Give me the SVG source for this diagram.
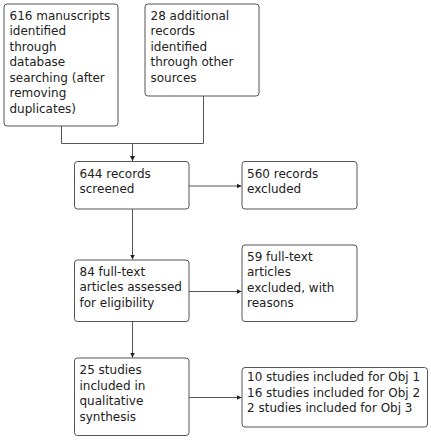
<svg xmlns="http://www.w3.org/2000/svg" width="431" height="440" viewBox="0 0 431 440">
<style>
.box{fill:#fff;stroke:#555;stroke-width:1}
.t{font-family:"DejaVu Sans",sans-serif;font-size:12px;fill:#222}
.c{fill:none;stroke:#555;stroke-width:1}
</style>
<defs>
<marker id="ah" markerWidth="6" markerHeight="6" refX="5" refY="3" orient="auto" markerUnits="userSpaceOnUse">
<path d="M0,0.5 L5,3 L0,5.5 Z" fill="#222"/>
</marker>
</defs>
<rect width="431" height="440" fill="#fff"/>
<g id="connectors">
<path class="c" d="M61.5,126 V143.5 H203.5 V96"/>
<path class="c" d="M132.5,143.5 V161" marker-end="url(#ah)"/>
<path class="c" d="M189,186 H241.5" marker-end="url(#ah)"/>
<path class="c" d="M132.5,209 V259.5" marker-end="url(#ah)"/>
<path class="c" d="M189,291.5 H241.5" marker-end="url(#ah)"/>
<path class="c" d="M132.5,322 V357.5" marker-end="url(#ah)"/>
<path class="c" d="M189,397.5 H241.5" marker-end="url(#ah)"/>
</g>
<g id="n1">
<rect class="box" x="4" y="4" width="114" height="122" rx="3"/>
<text class="t" x="9.5" y="19.5">616 manuscripts</text>
<text class="t" x="9.5" y="35">identified</text>
<text class="t" x="9.5" y="50.5">through</text>
<text class="t" x="9.5" y="66">database</text>
<text class="t" x="9.5" y="81.5">searching (after</text>
<text class="t" x="9.5" y="97">removing</text>
<text class="t" x="9.5" y="112.5">duplicates)</text>
</g>
<g id="n2">
<rect class="box" x="145" y="4" width="114" height="92" rx="3"/>
<text class="t" x="150.5" y="19.5">28 additional</text>
<text class="t" x="150.5" y="35">records</text>
<text class="t" x="150.5" y="50.5">identified</text>
<text class="t" x="150.5" y="66">through other</text>
<text class="t" x="150.5" y="81.5">sources</text>
</g>
<g id="n3">
<rect class="box" x="74.5" y="161.5" width="114.5" height="47.5" rx="3"/>
<text class="t" x="79.5" y="177.5">644 records</text>
<text class="t" x="79.5" y="193">screened</text>
</g>
<g id="n4">
<rect class="box" x="242" y="161.5" width="115" height="47.5" rx="3"/>
<text class="t" x="247" y="177.5">560 records</text>
<text class="t" x="247" y="193">excluded</text>
</g>
<g id="n5">
<rect class="box" x="74.5" y="260" width="114.5" height="61.5" rx="3"/>
<text class="t" x="79.5" y="275.5">84 full-text</text>
<text class="t" x="79.5" y="291">articles assessed</text>
<text class="t" x="79.5" y="306.5">for eligibility</text>
</g>
<g id="n6">
<rect class="box" x="242" y="245" width="115" height="76.5" rx="3"/>
<text class="t" x="247" y="260.5">59 full-text</text>
<text class="t" x="247" y="276">articles</text>
<text class="t" x="247" y="291.5">excluded, with</text>
<text class="t" x="247" y="307">reasons</text>
</g>
<g id="n7">
<rect class="box" x="74.5" y="358" width="114.5" height="77.5" rx="3"/>
<text class="t" x="79.5" y="374">25 studies</text>
<text class="t" x="79.5" y="389.5">included in</text>
<text class="t" x="79.5" y="405">qualitative</text>
<text class="t" x="79.5" y="420.5">synthesis</text>
</g>
<g id="n8">
<rect class="box" x="242" y="367.5" width="185.5" height="59.5" rx="3"/>
<text class="t" x="247" y="381">10 studies included for Obj 1</text>
<text class="t" x="247" y="396.5">16 studies included for Obj 2</text>
<text class="t" x="247" y="412">2 studies included for Obj 3</text>
</g>
</svg>
